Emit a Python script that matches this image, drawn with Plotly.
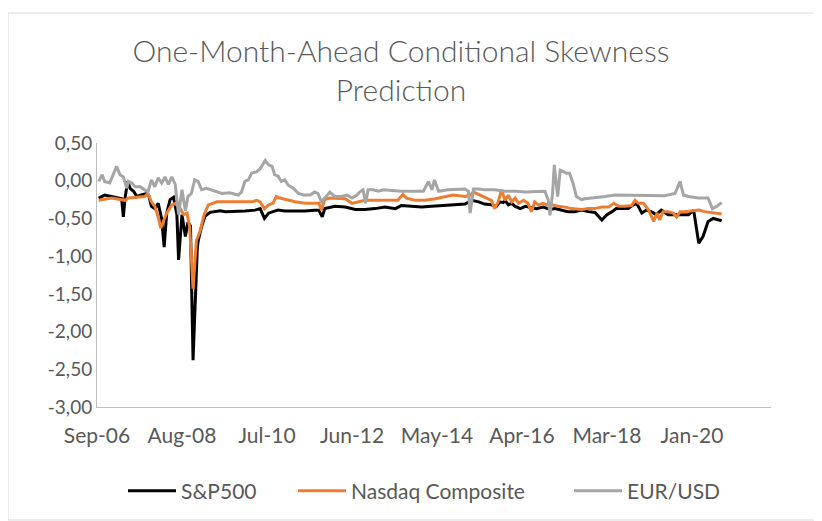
import pandas as pd
import plotly.graph_objects as go

start_date = "2006-09-01"
axis_end_week = 793
tick_weeks = [0, 100, 200, 300, 400, 500, 600, 700]
y_tick_vals = [0.5, 0.0, -0.5, -1.0, -1.5, -2.0, -2.5, -3.0]
y_tick_text = ["0,50", "0,00", "-0,50", "-1,00", "-1,50", "-2,00", "-2,50", "-3,00"]

sp_weeks = [2,9,17,27,29,31,33,36,39,43,47,51,58,61,64,68,72,76,79,82,86,90,94,96,100,104,107,110,113,118,
            119,123,127,133,145,151,162,174,186,192,197,202,207,213,221,233,245,256,261,265,268,280,292,304,315,
            327,339,351,358,370,382,394,406,419,433,441,449,456,464,470,474,478,480,484,488,492,498,504,509,517,
            525,533,539,547,554,562,570,578,586,594,600,606,611,617,625,631,635,641,646,652,658,664,672,680,688,
            696,702,708,713,719,725,731,735]
sp_vals = [-0.23,-0.19,-0.21,-0.23,-0.24,-0.48,-0.23,-0.01,-0.10,-0.14,-0.21,-0.19,-0.17,-0.20,-0.34,-0.37,
           -0.30,-0.50,-0.88,-0.43,-0.25,-0.22,-0.45,-1.05,-0.45,-0.74,-0.55,-0.60,-2.38,-0.90,-0.80,-0.61,-0.47,
           -0.42,-0.40,-0.41,-0.41,-0.40,-0.39,-0.37,-0.50,-0.43,-0.41,-0.39,-0.40,-0.40,-0.40,-0.39,-0.39,-0.48,
           -0.37,-0.34,-0.35,-0.38,-0.38,-0.37,-0.35,-0.37,-0.33,-0.34,-0.35,-0.34,-0.33,-0.32,-0.31,-0.26,-0.28,
           -0.31,-0.32,-0.34,-0.28,-0.29,-0.26,-0.32,-0.30,-0.34,-0.37,-0.34,-0.35,-0.37,-0.35,-0.38,-0.37,-0.39,
           -0.41,-0.41,-0.39,-0.41,-0.42,-0.52,-0.45,-0.41,-0.37,-0.37,-0.37,-0.32,-0.30,-0.43,-0.39,-0.41,-0.45,
           -0.39,-0.45,-0.45,-0.45,-0.45,-0.39,-0.83,-0.74,-0.54,-0.50,-0.52,-0.53]

nq_weeks = [2,17,33,37,56,60,64,68,72,75,78,82,88,92,98,102,106,109,113,117,121,126,131,141,151,162,174,182,
            188,192,197,202,207,211,215,221,233,245,256,261,264,268,274,292,300,307,315,327,343,354,360,364,374,
            386,398,409,419,433,439,443,451,458,464,468,472,476,480,484,488,492,496,502,507,511,515,519,525,529,
            535,543,551,558,570,578,586,594,602,608,614,621,629,633,637,643,649,655,659,662,666,672,678,682,686,
            692,708,715,723,729,735]
nq_vals = [-0.26,-0.23,-0.26,-0.23,-0.21,-0.17,-0.28,-0.34,-0.48,-0.63,-0.54,-0.43,-0.32,-0.30,-0.37,-0.45,
           -0.43,-0.61,-1.43,-0.79,-0.68,-0.45,-0.32,-0.28,-0.28,-0.28,-0.28,-0.28,-0.26,-0.28,-0.37,-0.32,-0.30,
           -0.21,-0.23,-0.25,-0.28,-0.30,-0.30,-0.30,-0.39,-0.25,-0.23,-0.24,-0.30,-0.28,-0.26,-0.26,-0.26,-0.26,
           -0.18,-0.23,-0.26,-0.26,-0.24,-0.21,-0.19,-0.21,-0.19,-0.15,-0.19,-0.23,-0.26,-0.37,-0.28,-0.12,-0.26,
           -0.19,-0.28,-0.23,-0.30,-0.26,-0.30,-0.41,-0.28,-0.32,-0.30,-0.32,-0.32,-0.34,-0.35,-0.37,-0.38,-0.37,
           -0.37,-0.35,-0.35,-0.30,-0.34,-0.34,-0.33,-0.26,-0.30,-0.30,-0.39,-0.54,-0.43,-0.52,-0.41,-0.41,-0.43,
           -0.48,-0.41,-0.41,-0.39,-0.41,-0.42,-0.43,-0.44]

eu_weeks = [2,6,9,15,23,27,31,35,37,41,45,51,56,60,64,68,72,76,80,84,88,92,96,100,104,107,111,115,119,123,
            129,135,141,147,156,166,170,174,178,182,188,192,198,202,206,209,213,217,221,225,231,237,243,251,256,
            260,264,268,274,280,288,294,300,306,309,313,316,319,325,331,337,347,358,370,384,390,394,397,402,413,
            425,433,437,439,443,449,456,468,480,492,504,519,527,531,533,536,538,542,545,549,552,556,560,564,570,
            574,586,598,609,621,645,668,680,686,690,696,708,719,724,729,735]
eu_vals = [-0.01,0.08,-0.01,-0.03,0.19,0.08,0.05,-0.10,-0.01,-0.03,-0.08,-0.08,-0.12,-0.15,0.01,-0.08,0.04,
           -0.03,0.05,-0.05,0.05,-0.05,-0.45,-0.12,-0.40,-0.21,-0.17,0.01,-0.01,-0.12,-0.10,-0.12,-0.14,-0.17,
           -0.16,-0.19,-0.15,-0.01,0.01,0.10,0.12,0.16,0.27,0.21,0.19,0.08,0.06,-0.01,0.01,-0.06,-0.10,-0.17,
           -0.19,-0.19,-0.15,-0.17,-0.28,-0.23,-0.15,-0.21,-0.21,-0.19,-0.23,-0.19,-0.15,-0.12,-0.30,-0.12,-0.12,
           -0.14,-0.12,-0.13,-0.14,-0.14,-0.14,-0.01,-0.12,0.01,-0.14,-0.12,-0.11,-0.11,-0.14,-0.43,-0.11,-0.11,
           -0.12,-0.12,-0.14,-0.14,-0.15,-0.14,-0.14,-0.26,-0.46,-0.17,0.21,-0.21,0.14,0.12,0.10,0.10,-0.03,-0.21,
           -0.25,-0.24,-0.23,-0.21,-0.19,-0.19,-0.19,-0.20,-0.17,-0.01,-0.19,-0.21,-0.23,-0.23,-0.37,-0.34,-0.29]

t0 = pd.Timestamp(start_date)
def to_dates(weeks):
    return [t0 + pd.Timedelta(weeks=w) for w in weeks]

FONT = "Lato"
TXT = "#595959"

# page body has an 8px margin: work in screen pixels and shift by OFF
OFF = 8
W, H = 822 - OFF, 521 - OFF
L, R, T, B = 97 - OFF, 771 - OFF, 143 - OFF, 407 - OFF

fig = go.Figure()
series = [
    ("S&P500", sp_weeks, sp_vals, "#000000", "legend"),
    ("Nasdaq Composite", nq_weeks, nq_vals, "#ED7D31", "legend2"),
    ("EUR/USD", eu_weeks, eu_vals, "#A5A5A5", "legend3"),
]
for name, wk, vals, col, lg in series:
    fig.add_trace(go.Scatter(x=to_dates(wk), y=vals, mode="lines", name=name,
                             line=dict(color=col, width=3), legend=lg))

def leg(x_screen):
    return dict(orientation="h", xref="container", yref="container",
                x=(x_screen - OFF) / W, xanchor="left",
                y=1 - (491 - OFF) / H, yanchor="middle",
                font=dict(family=FONT, size=21, color=TXT),
                itemwidth=48, bgcolor="rgba(0,0,0,0)")

fig.update_layout(
    width=W, height=H,
    margin=dict(l=L, r=W - R, t=T, b=H - B),
    paper_bgcolor="white", plot_bgcolor="white",
    font=dict(family=FONT, color=TXT, size=19),
    title=dict(text="One-Month-Ahead Conditional Skewness<br>Prediction",
               x=(401 - OFF) / W, xanchor="center", xref="container",
               y=1 - 54 / H, yanchor="middle", yref="container",
               font=dict(family=FONT, size=30, color=TXT, weight=300)),
    showlegend=True,
    legend=leg(123),
    legend2=leg(293),
    legend3=leg(569),
    xaxis=dict(type="date",
               range=[t0, t0 + pd.Timedelta(weeks=axis_end_week)],
               tickvals=to_dates(tick_weeks), tickformat="%b-%y",
               showgrid=False, zeroline=False,
               showline=True, linecolor="#BFBFBF", linewidth=1,
               ticks="", ticklabelstandoff=10,
               tickfont=dict(family=FONT, size=21, color=TXT)),
    yaxis=dict(range=[-3.0, 0.5], tickvals=y_tick_vals, ticktext=y_tick_text,
               showgrid=False, zeroline=False,
               showline=True, linecolor="#BFBFBF", linewidth=1,
               ticks="", ticklabelstandoff=0,
               tickfont=dict(family=FONT, size=19, color=TXT)),
    shapes=[dict(type="rect", xref="paper", yref="paper",
                 x0=(0 - L) / (R - L), x1=(810 - L) / (R - L),
                 y0=(B - 512) / (B - T), y1=(B - 5) / (B - T),
                 line=dict(color="#D9D9D9", width=1), fillcolor="rgba(0,0,0,0)", layer="below")],
)

fig.write_html("out.html")
